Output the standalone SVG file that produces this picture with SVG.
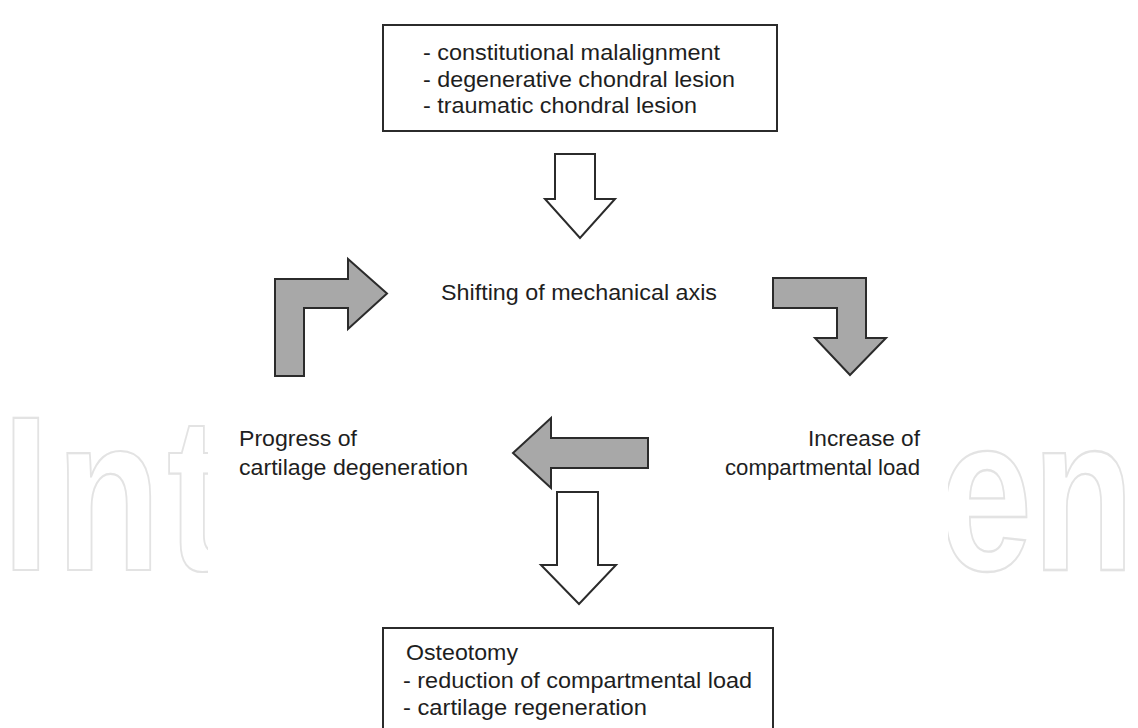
<svg xmlns="http://www.w3.org/2000/svg" width="1138" height="728" viewBox="0 0 1138 728">
<style>
.t{font-family:"Liberation Sans",Arial,sans-serif;font-size:21.5px;fill:#1e1e1e}
.box{fill:#fff;stroke:#2b2b2b;stroke-width:2}
.wa{fill:#fff;stroke:#2b2b2b;stroke-width:2;stroke-linejoin:miter}
.ga{fill:#a8a8a8;stroke:#2b2b2b;stroke-width:2;stroke-linejoin:miter}
.wm{font-family:"Liberation Sans",Arial,sans-serif;font-weight:bold;font-size:220px;fill:none;stroke:#e3e3e3;stroke-width:2}
</style>
<rect width="1138" height="728" fill="#fff"/>
<g id="watermark">
<g transform="translate(0,570) scale(0.78,1)"><text class="wm" x="2.7" y="0" letter-spacing="8" vector-effect="non-scaling-stroke">Int</text></g>
<g transform="translate(0,570) scale(0.76,1)"><text class="wm" x="1236" y="0" vector-effect="non-scaling-stroke">en</text></g>
<rect x="208" y="0" width="740" height="728" fill="#fff"/>
</g>
<g id="causes">
<rect class="box" x="383" y="25" width="394" height="106"/>
<text class="t" x="423" y="60" textLength="297" lengthAdjust="spacingAndGlyphs">- constitutional malalignment</text>
<text class="t" x="423" y="86.5" textLength="312" lengthAdjust="spacingAndGlyphs">- degenerative chondral lesion</text>
<text class="t" x="423" y="113" textLength="274" lengthAdjust="spacingAndGlyphs">- traumatic chondral lesion</text>
</g>
<g id="shifting">
<text class="t" x="441" y="300" textLength="276" lengthAdjust="spacingAndGlyphs">Shifting of mechanical axis</text>
</g>
<g id="increase">
<text class="t" x="808" y="446" textLength="112" lengthAdjust="spacingAndGlyphs">Increase of</text>
<text class="t" x="725" y="475" textLength="195" lengthAdjust="spacingAndGlyphs">compartmental load</text>
</g>
<g id="progress">
<text class="t" x="239" y="446" textLength="118" lengthAdjust="spacingAndGlyphs">Progress of</text>
<text class="t" x="239" y="475" textLength="229" lengthAdjust="spacingAndGlyphs">cartilage degeneration</text>
</g>
<g id="osteotomy">
<rect class="box" x="383" y="628" width="390" height="130"/>
<text class="t" x="406" y="660" textLength="112" lengthAdjust="spacingAndGlyphs">Osteotomy</text>
<text class="t" x="403" y="688" textLength="349" lengthAdjust="spacingAndGlyphs">- reduction of compartmental load</text>
<text class="t" x="403" y="715" textLength="244" lengthAdjust="spacingAndGlyphs">- cartilage regeneration</text>
</g>
<g id="connectors">
<path class="wa" d="M555,154 H595 V199 H615 L580,238 L545,199 H555 Z"/>
<path class="ga" d="M773,278 H866 V338 H886 L850,375 L815,338 H837 V308 H773 Z"/>
<path class="ga" d="M648,438 V468 H551 V488 L513,453 L551,418 V438 Z"/>
<path class="ga" d="M275,376 V279 H348 V259 L387,293.5 L348,329 V308 H304 V376 Z"/>
<path class="wa" d="M557,492 H598 V565 H616 L579,604 L541,565 H557 Z"/>
</g>
</svg>
